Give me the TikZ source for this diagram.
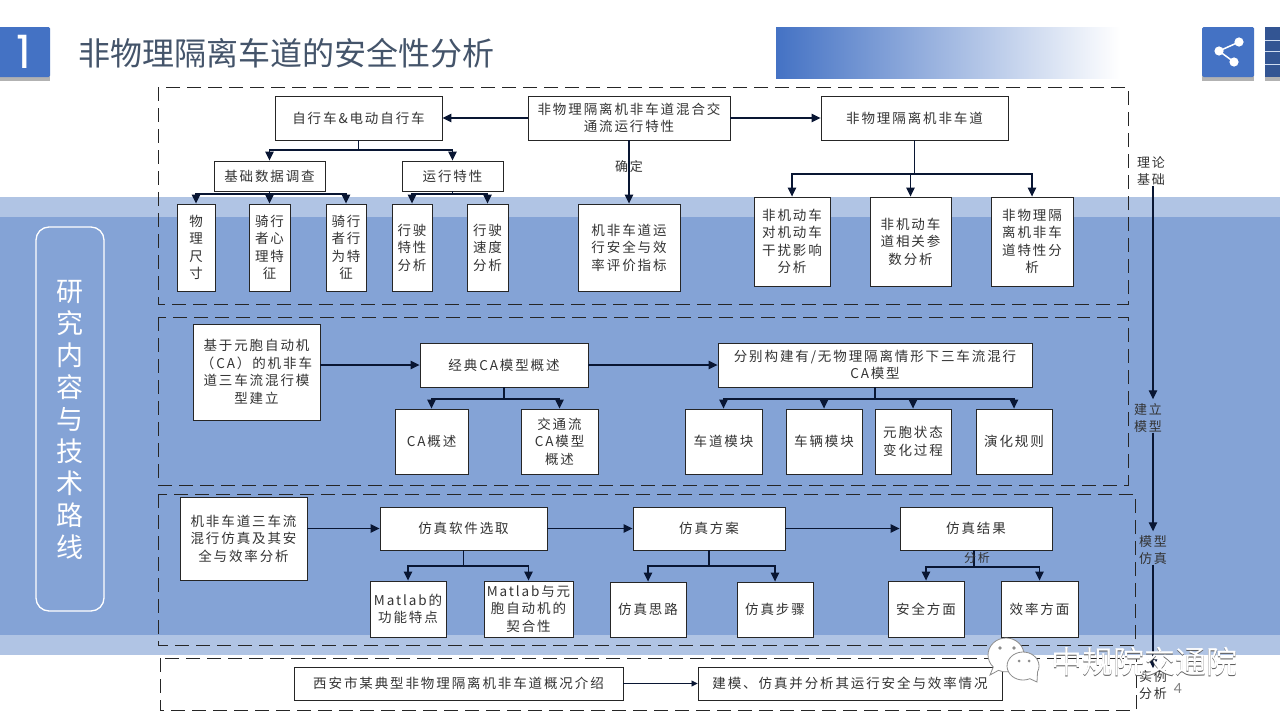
\documentclass[tikz,border=0pt]{standalone}
\usepackage{fontspec}
\usetikzlibrary{arrows.meta,calc}
\newfontfamily\cjk[LetterSpace=14]{Noto Sans CJK SC}
\newfontfamily\cjkplain{Noto Sans CJK SC}
\newfontfamily\numfont{Lato}
\newfontfamily\onefont{Poppins}
\definecolor{bandlight}{HTML}{B0C4E4}
\definecolor{bandmain}{HTML}{84A3D6}
\definecolor{headblue}{HTML}{4472C4}
\definecolor{titlegrey}{HTML}{44546A}
\definecolor{inkblue}{HTML}{0B1A3C}
\definecolor{txt}{HTML}{333333}
\tikzset{
  boxnode/.style={draw=black!85,line width=0.9pt,fill=white,inner sep=0pt,align=center,text=txt,
    font=\cjk\fontsize{13.5}{17.5}\selectfont},
  region/.style={draw=black!85,line width=1pt,dash pattern=on 14pt off 7pt},
  stem/.style={draw=inkblue!85!black,line width=1.2pt},
  arrow/.style={stem,-{Triangle[length=9pt,width=8.5pt]}},
  axislabel/.style={inner sep=0pt,align=center,text=txt,font=\cjk\fontsize{13}{17}\selectfont},
  sidetext/.style={inner sep=0pt,align=center,text=white,font=\cjkplain\fontsize{27}{32}\selectfont},
  wm/.style={inner sep=0pt,font=\cjkplain\fontsize{31}{31}\selectfont},
  bubble/.style={draw=black!45,line width=0.8pt,fill=white},
}
% \bx{name}{left}{top}{right}{bottom}{text}
\newcommand{\bx}[6]{%
  \pgfmathsetmacro{\bxw}{#4-#2}\pgfmathsetmacro{\bxh}{#5-#3}%
  \pgfmathsetmacro{\bxcx}{(#2+#4)/2}\pgfmathsetmacro{\bxcy}{(#3+#5)/2}%
  \node[boxnode,minimum width=\bxw pt,minimum height=\bxh pt] (#1) at (\bxcx,\bxcy) {#6};}
\begin{document}
\begin{tikzpicture}[x=1pt,y=-1pt]
\useasboundingbox (0,0) rectangle (1280,720);
\fill[white] (0,0) rectangle (1280,720);
% background bands
\fill[bandlight] (0,197) rectangle (1280,655);
\fill[bandmain] (0,217) rectangle (1280,635);
% header
\fill[black!30] (0,32) rectangle (50,81);
\fill[headblue,rounded corners=1.5pt] (-4,27) rectangle (50,77);
\node[inner sep=0pt,text=white,font=\onefont\fontsize{46}{46}\selectfont] (num) at (24,52) {1};
\node[inner sep=0pt,anchor=west,text=titlegrey,font=\cjkplain\fontsize{32}{36}\selectfont] (title) at (78,53) {非物理隔离车道的安全性分析};
\shade[left color=headblue,right color=white] (776,27) rectangle (1120,78);
\fill[black!30] (1202,32) rectangle (1254,81);
\fill[headblue,rounded corners=1.5pt] (1202,27) rectangle (1254,77);
\coordinate (sa) at (1219,51);\coordinate (sb) at (1239,42);\coordinate (sc) at (1234,62);
\draw[white,line width=1.5pt] (sb) -- (sa) -- (sc);
\fill[white] (sa) circle (4.6) (sb) circle (4.6) (sc) circle (4.6);
\fill[black!30] (1265,32) rectangle (1280,81);
\fill[headblue!75!black] (1265,27) rectangle (1280,77);
\draw[white!75!headblue,line width=1pt] (1265,40)--(1280,40) (1265,51)--(1280,51) (1265,64)--(1280,64);
% side capsule
\draw[white,line width=1.3pt,rounded corners=13pt] (36,227) rectangle (104,611);
\node[sidetext] (side) at (70,420) {研\\究\\内\\容\\与\\技\\术\\路\\线};
% dashed regions
\draw[region] (158,87) rectangle (1128,304);
\draw[region] (158,317) rectangle (1128,485);
\draw[region] (158,494) rectangle (1135,645);
\draw[region] (160,658) rectangle (1136,710);
% region 1
\bx{bike}{275}{96}{442}{140}{自行车\&电动自行车}
\bx{mix}{528}{96}{730}{140}{非物理隔离机非车道混合交\\通流运行特性}
\bx{lane}{821}{96}{1008}{140}{非物理隔离机非车道}
\bx{survey}{214}{161}{325}{191}{基础数据调查}
\bx{feat}{402}{161}{503}{191}{运行特性}
\bx{size}{177}{204}{215}{291}{物\\理\\尺\\寸}
\bx{psy}{249}{204}{290}{291}{骑行\\者心\\理特\\征}
\bx{beh}{326}{204}{366}{291}{骑行\\者行\\为特\\征}
\bx{drv}{392}{204}{432}{291}{行驶\\特性\\分析}
\bx{spd}{467}{204}{508}{291}{行驶\\速度\\分析}
\bx{eval}{578}{204}{680}{291}{机非车道运\\行安全与效\\率评价指标}
\bx{inter}{754}{197}{830}{286}{非机动车\\对机动车\\干扰影响\\分析}
\bx{param}{870}{197}{951}{286}{非机动车\\道相关参\\数分析}
\bx{char}{991}{197}{1073}{286}{非物理隔\\离机非车\\道特性分\\析}
\draw[arrow] (mix.west |- bike.east) -- (bike.east);
\draw[arrow] (mix.east |- lane.west) -- (lane.west);
\draw[arrow] (mix.south -| eval.north) -- node[pos=0.42,inner sep=0pt,text=txt,font=\cjk\fontsize{13}{15}\selectfont] (confirm) {确定} (eval.north);
\coordinate (j1) at (bike.south |- 0,150);
\draw[stem] (bike.south) -- (j1);
\draw[arrow] (j1) -| (survey.north);
\draw[arrow] (j1) -| (feat.north);
\coordinate (j2) at (survey.south |- 0,194);
\draw[stem] (survey.south) -- (j2);
\draw[arrow] (j2) -| (size.north);
\draw[arrow] (j2) -| (psy.north);
\draw[arrow] (j2) -| (beh.north);
\coordinate (j3) at (feat.south |- 0,194);
\draw[stem] (feat.south) -- (j3);
\draw[arrow] (j3) -| (drv.north);
\draw[arrow] (j3) -| (spd.north);
\coordinate (j4) at (lane.south |- 0,174);
\draw[stem] (lane.south) -- (j4);
\draw[arrow] (j4) -| (inter.north);
\draw[arrow] (j4) -| (param.north);
\draw[arrow] (j4) -| (char.north);
% region 2
\bx{ca}{193}{324}{320}{420}{基于元胞自动机\\（CA）的机非车\\道三车流混行模\\型建立}
\bx{classic}{420}{343}{588}{387}{经典CA模型概述}
\bx{build}{718}{343}{1032}{387}{分别构建有/无物理隔离情形下三车流混行\\CA模型}
\bx{caover}{395}{409}{468}{474}{CA概述}
\bx{flow}{521}{409}{598}{474}{交通流\\CA模型\\概述}
\bx{lanemod}{685}{409}{762}{474}{车道模块}
\bx{veh}{786}{409}{862}{474}{车辆模块}
\bx{cell}{875}{409}{951}{474}{元胞状态\\变化过程}
\bx{rule}{976}{409}{1052}{474}{演化规则}
\draw[arrow] (ca.east |- classic.west) -- (classic.west);
\draw[arrow] (classic.east) -- (build.west);
\coordinate (j5) at (classic.south |- 0,399);
\draw[stem] (classic.south) -- (j5);
\draw[arrow] (j5) -| (caover.north);
\draw[arrow] (j5) -| (flow.north);
\coordinate (j6) at (build.south |- 0,399);
\draw[stem] (build.south) -- (j6);
\draw[arrow] (j6) -| (lanemod.north);
\draw[arrow] (j6) -| (veh.north);
\draw[arrow] (j6) -| (cell.north);
\draw[arrow] (j6) -| (rule.north);
% region 3
\bx{sim}{180}{497}{307}{580}{机非车道三车流\\混行仿真及其安\\全与效率分析}
\bx{soft}{380}{507}{547}{550}{仿真软件选取}
\bx{plan}{633}{507}{785}{550}{仿真方案}
\bx{res}{900}{507}{1052}{550}{仿真结果}
\bx{ml}{370}{581}{446}{637}{Matlab的\\功能特点}
\bx{mlca}{484}{581}{573}{637}{Matlab与元\\胞自动机的\\契合性}
\bx{idea}{610}{582}{686}{637}{仿真思路}
\bx{steps}{737}{582}{813}{637}{仿真步骤}
\bx{safe}{888}{581}{964}{637}{安全方面}
\bx{eff}{1001}{581}{1078}{637}{效率方面}
\draw[arrow] (sim.east |- soft.west) -- (soft.west);
\draw[arrow] (soft.east) -- (plan.west);
\draw[arrow] (plan.east) -- (res.west);
\coordinate (j7) at (soft.south |- 0,566);
\draw[stem] (soft.south) -- (j7);
\draw[arrow] (j7) -| (ml.north);
\draw[arrow] (j7) -| (mlca.north);
\coordinate (j8) at (plan.south |- 0,566);
\draw[stem] (plan.south) -- (j8);
\draw[arrow] (j8) -| (idea.north);
\draw[arrow] (j8) -| (steps.north);
\coordinate (j9) at (974,567);
\draw[stem] (res.south -| j9) -- (j9);
\draw[arrow] (j9) -| (safe.north);
\draw[arrow] (j9) -| (eff.north);
\node[inner sep=0pt,text=txt,font=\cjk\fontsize{12}{14}\selectfont] (ana) at (977,558) {分析};
% region 4
\bx{xian}{294}{667}{623}{700}{西安市某典型非物理隔离机非车道概况介绍}
\bx{model}{698}{667}{1002}{700}{建模、仿真并分析其运行安全与效率情况}
\draw[stem,-{Triangle[length=6pt,width=6pt]},line width=0.8pt] (xian.east) -- (model.west);
% right axis
\coordinate (ax) at (1153,0);
\node[axislabel] (t1) at (1151,171) {理论\\基础};
\node[axislabel] (t2) at (1148,418) {建立\\模型};
\node[axislabel] (t3) at (1153,550) {模型\\仿真};
\node[axislabel] (t4) at (1153,685) {实例\\分析};
\draw[arrow] (t1.south -| ax) -- ($(t2.north -| ax)+(0,-4)$);
\draw[arrow] (t2.south -| ax) -- ($(t3.north -| ax)+(0,-4)$);
\draw[arrow] (t3.south -| ax) -- ($(t4.north -| ax)+(0,-2)$);
% page number and watermark
\node[inner sep=0pt,text=black!50,font=\numfont\fontsize{14}{14}\selectfont] (page) at (1178,688) {4};
\draw[bubble] (993.3,667) arc[start angle=135,end angle=475,x radius=18,y radius=17] -- (990,675) -- cycle;
\fill[black!45] (1000,648) circle (1.8) (1014,648) circle (1.8);
\draw[bubble] (1029.8,678.7) arc[start angle=65,end angle=385,x radius=16,y radius=14] -- (1037,682) -- cycle;
\fill[black!45] (1019,661) circle (1.5) (1029,661) circle (1.5);
\node[wm,text=black!65] (wmshadow) at (1144.9,662.9) {中规院交通院};
\node[wm,text=white] (wmtext) at (1144,662) {中规院交通院};
\end{tikzpicture}
\end{document}
